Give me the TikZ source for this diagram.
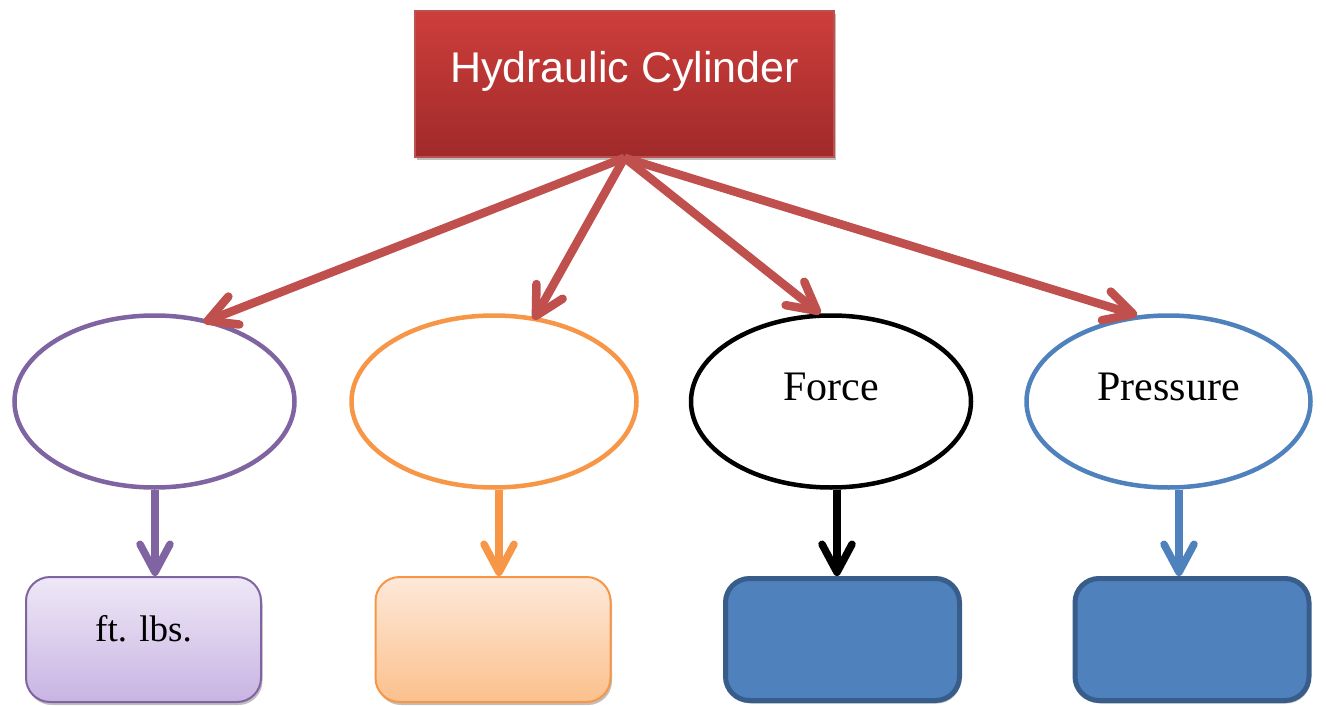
\documentclass[tikz,border=0pt]{standalone}
\usepackage{fontspec}
\setmainfont{Liberation Serif}
\newfontfamily\headfont{Liberation Sans}
\usetikzlibrary{arrows.meta,shadows,shapes.geometric}

\definecolor{redtop}{HTML}{CD3E3B}
\definecolor{redbot}{HTML}{A02A2A}
\definecolor{redline}{HTML}{C0504D}
\definecolor{purp}{HTML}{8064A2}
\definecolor{purptop}{HTML}{EEE8F6}
\definecolor{purpbot}{HTML}{C8B4E2}
\definecolor{orng}{HTML}{F79646}
\definecolor{orngtop}{HTML}{FDE9DA}
\definecolor{orngbot}{HTML}{FBC08C}
\definecolor{blu}{HTML}{4F81BD}
\definecolor{bluedge}{HTML}{385D8A}

\tikzset{
  softshadow/.style={drop shadow={shadow xshift=1.5pt, shadow yshift=-3pt, opacity=0.25, fill=black}},
  topbox/.style={rectangle, draw=redline, line width=1.5pt, top color=redtop, bottom color=redbot,
    minimum width=419pt, minimum height=146pt, inner sep=0pt, softshadow},
  headtext/.style={font=\headfont\fontsize{43}{48}\selectfont, text=white, inner sep=0pt},
  oval/.style={ellipse, line width=4.5pt, fill=white, minimum width=280pt, minimum height=172pt, inner sep=0pt},
  ovaltext/.style={font=\fontsize{42}{46}\selectfont, inner sep=0pt},
  lowbox/.style={rectangle, rounded corners=24pt, minimum width=235pt, minimum height=125pt, inner sep=0pt, softshadow},
  boxtext/.style={font=\fontsize{37}{44}\selectfont, inner sep=0pt},
  link/.style={line width=7.5pt, -{Straight Barb[length=28pt, width=30pt, round]}},
  redlink/.style={link, redline, line width=8.5pt},
}

\begin{document}
\begin{tikzpicture}[x=1pt, y=-1pt]
\useasboundingbox (0,0) rectangle (1326,706);

% head node
\node[topbox] (top) at (624.5,84) {};
\node[headtext] (title) at (624.5,71) {Hydraulic Cylinder};

% middle row of ovals
\node[oval, draw=purp] (e1) at (154.5,401.5) {};
\node[oval, draw=orng, minimum width=285pt] (e2) at (494,401.5) {};
\node[oval, draw=black] (e3) at (831,401.5) {};
\node[oval, draw=blu, minimum width=284pt] (e4) at (1168.5,401.5) {};
\node[ovaltext] (t3) at ([yshift=15pt]e3.center) {Force};
\node[ovaltext] (t4) at ([yshift=15pt]e4.center) {Pressure};

% bottom row of boxes
\node[lowbox, draw=purp, line width=2pt, top color=purptop, bottom color=purpbot] (b1) at (143.5,639.5) {};
\node[lowbox, draw=orng, line width=2pt, top color=orngtop, bottom color=orngbot] (b2) at (493,639.5) {};
\node[lowbox, draw=bluedge, line width=5pt, fill=blu, minimum width=234pt, minimum height=122pt] (b3) at (842.5,639.5) {};
\node[lowbox, draw=bluedge, line width=5pt, fill=blu, minimum width=234pt, minimum height=122pt] (b4) at (1192,639.5) {};
\node[boxtext] (l1) at ([yshift=11pt]b1.center) {ft. lbs.};

% links from the head node
\draw[redlink, shorten >=-6pt] (top.south) -- (e1.56.5);
\draw[redlink, shorten >=-3pt] (top.south) -- (e2.64.1);
\draw[redlink] (top.south) -- (e3.97.1);
\draw[redlink] (top.south) -- (e4.110.2);

% links from the ovals down to the boxes
\draw[link, purp] ([xshift=0.5pt]e1.south) -- ([xshift=0.5pt]e1.south |- b1.north);
\draw[link, orng] ([xshift=5pt]e2.south) -- ([xshift=5pt]e2.south |- b2.north);
\draw[link, black] ([xshift=6pt]e3.south) -- ([xshift=6pt]e3.south |- b3.north);
\draw[link, blu] ([xshift=10.5pt]e4.south) -- ([xshift=10.5pt]e4.south |- b4.north);
\end{tikzpicture}
\end{document}
